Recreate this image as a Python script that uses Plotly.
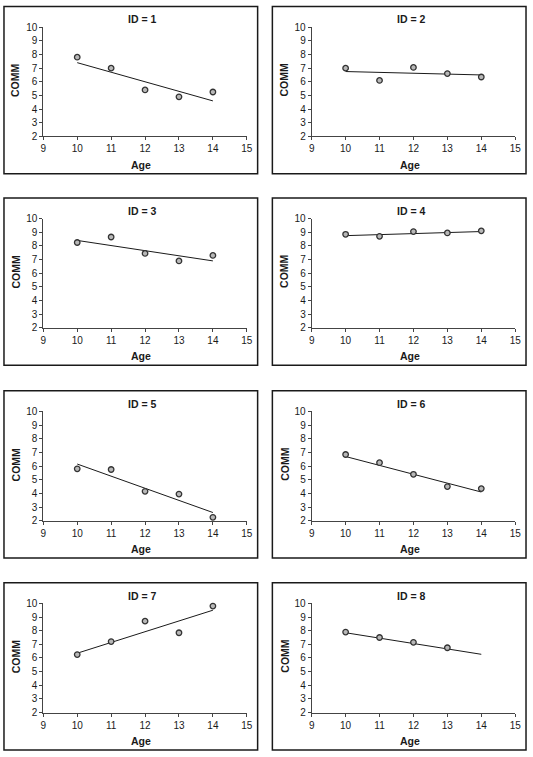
import plotly.graph_objects as go

# ---------------- data ----------------
ids = [1, 2, 3, 4, 5, 6, 7, 8]
ages = [10, 11, 12, 13, 14]

comm_id1 = [7.8, 7.0, 5.4, 4.9, 5.25]
comm_id2 = [7.0, 6.1, 7.05, 6.6, 6.35]
comm_id3 = [8.25, 8.65, 7.45, 6.9, 7.3]
comm_id4 = [8.85, 8.7, 9.05, 8.95, 9.1]
comm_id5 = [5.8, 5.75, 4.15, 3.95, 2.25]
comm_id6 = [6.85, 6.25, 5.4, 4.5, 4.35]
comm_id7 = [6.25, 7.2, 8.7, 7.85, 9.8]
comm_id8 = [7.9, 7.5, 7.15, 6.75, None]

fit_ages = [10, 14]
fit_id1 = [7.4, 4.6]
fit_id2 = [6.75, 6.5]
fit_id3 = [8.4, 6.9]
fit_id4 = [8.75, 9.05]
fit_id5 = [6.15, 2.6]
fit_id6 = [6.7, 4.1]
fit_id7 = [6.35, 9.5]
fit_id8 = [7.85, 6.27]

x_ticks = [9, 10, 11, 12, 13, 14, 15]
y_ticks = [2, 3, 4, 5, 6, 7, 8, 9, 10]
x_title = "Age"
y_title = "COMM"

points = [comm_id1, comm_id2, comm_id3, comm_id4, comm_id5, comm_id6, comm_id7, comm_id8]
fits = [fit_id1, fit_id2, fit_id3, fit_id4, fit_id5, fit_id6, fit_id7, fit_id8]

# ---------------- layout geometry (pixels) ----------------
W, H = 533, 757
box_lefts = [1, 274]
box_width = 258
box_tops = [0.5, 195, 391, 586]
box_height = 170
plot_dx = (40, 247)   # plot area relative to box left
plot_dy = (21, 132)   # plot area relative to box top


def fx(px):
    return px / W


def fy(py):
    return 1 - py / H


FONT = "Liberation Sans, Arial, sans-serif"
TXT = "#1a1a1a"

fig = go.Figure()
layout = dict(
    width=W, height=H,
    margin=dict(l=0, r=0, t=0, b=0),
    paper_bgcolor="white", plot_bgcolor="white",
    showlegend=False,
    font=dict(family=FONT, size=10, color=TXT),
)
shapes = []
annotations = []

for i, pid in enumerate(ids):
    row, col = divmod(i, 2)
    bl = box_lefts[col]
    bt = box_tops[row]
    x0, x1 = bl + plot_dx[0], bl + plot_dx[1]
    y0, y1 = bt + plot_dy[0], bt + plot_dy[1]
    k = "" if i == 0 else str(i + 1)

    layout["xaxis" + k] = dict(
        domain=[fx(x0), fx(x1)], anchor="y" + k,
        range=[9, 15], tickvals=x_ticks, ticktext=[str(v) for v in x_ticks],
        showgrid=False, zeroline=False, showline=True, linecolor="#444", linewidth=1,
        ticks="outside", ticklen=3, tickcolor="#444", tickwidth=1,
        tickfont=dict(family=FONT, size=10, color=TXT), fixedrange=True,
    )
    layout["yaxis" + k] = dict(
        domain=[fy(y1), fy(y0)], anchor="x" + k,
        range=[2, 10], tickvals=y_ticks, ticktext=[str(v) for v in y_ticks],
        showgrid=False, zeroline=False, showline=True, linecolor="#444", linewidth=1,
        ticks="outside", ticklen=3, tickcolor="#444", tickwidth=1,
        tickfont=dict(family=FONT, size=10, color=TXT), fixedrange=True,
    )

    fig.add_trace(go.Scatter(
        x=fit_ages, y=fits[i], mode="lines",
        line=dict(color="#1a1a1a", width=1),
        xaxis="x" + k, yaxis="y" + k, cliponaxis=False,
    ))
    fig.add_trace(go.Scatter(
        x=ages, y=points[i], mode="markers",
        marker=dict(symbol="circle", size=5.5, color="#b8b8b8",
                    line=dict(color="#333", width=1.3)),
        xaxis="x" + k, yaxis="y" + k, cliponaxis=False,
    ))

    # panel border
    shapes.append(dict(type="rect", xref="paper", yref="paper",
                       x0=fx(bl), x1=fx(bl + box_width),
                       y0=fy(bt + box_height), y1=fy(bt),
                       line=dict(color="#1a1a1a", width=1.5)))

    cx = (x0 + x1) / 2
    annotations.append(dict(
        text=f"<b>ID = {pid}</b>", xref="paper", yref="paper",
        x=fx(cx - 3), y=fy(bt + 13), xanchor="center", yanchor="middle",
        showarrow=False, font=dict(family=FONT, size=10.5, color=TXT)))
    annotations.append(dict(
        text=f"<b>{x_title}</b>", xref="paper", yref="paper",
        x=fx(cx - 4), y=fy(bt + 161), xanchor="center", yanchor="middle",
        showarrow=False, font=dict(family=FONT, size=10.5, color=TXT)))
    annotations.append(dict(
        text=f"<b>{y_title}</b>", xref="paper", yref="paper",
        x=fx(bl + 12), y=fy(bt + 75), xanchor="center", yanchor="middle",
        textangle=-90, showarrow=False, font=dict(family=FONT, size=10.5, color=TXT)))

layout["shapes"] = shapes
layout["annotations"] = annotations
fig.update_layout(**layout)
fig.write_html(
    "out.html",
    config={"displayModeBar": False},
    post_script="document.documentElement.style.margin='0';"
                "document.body.style.margin='0';"
                "document.body.style.overflow='hidden';",
)
